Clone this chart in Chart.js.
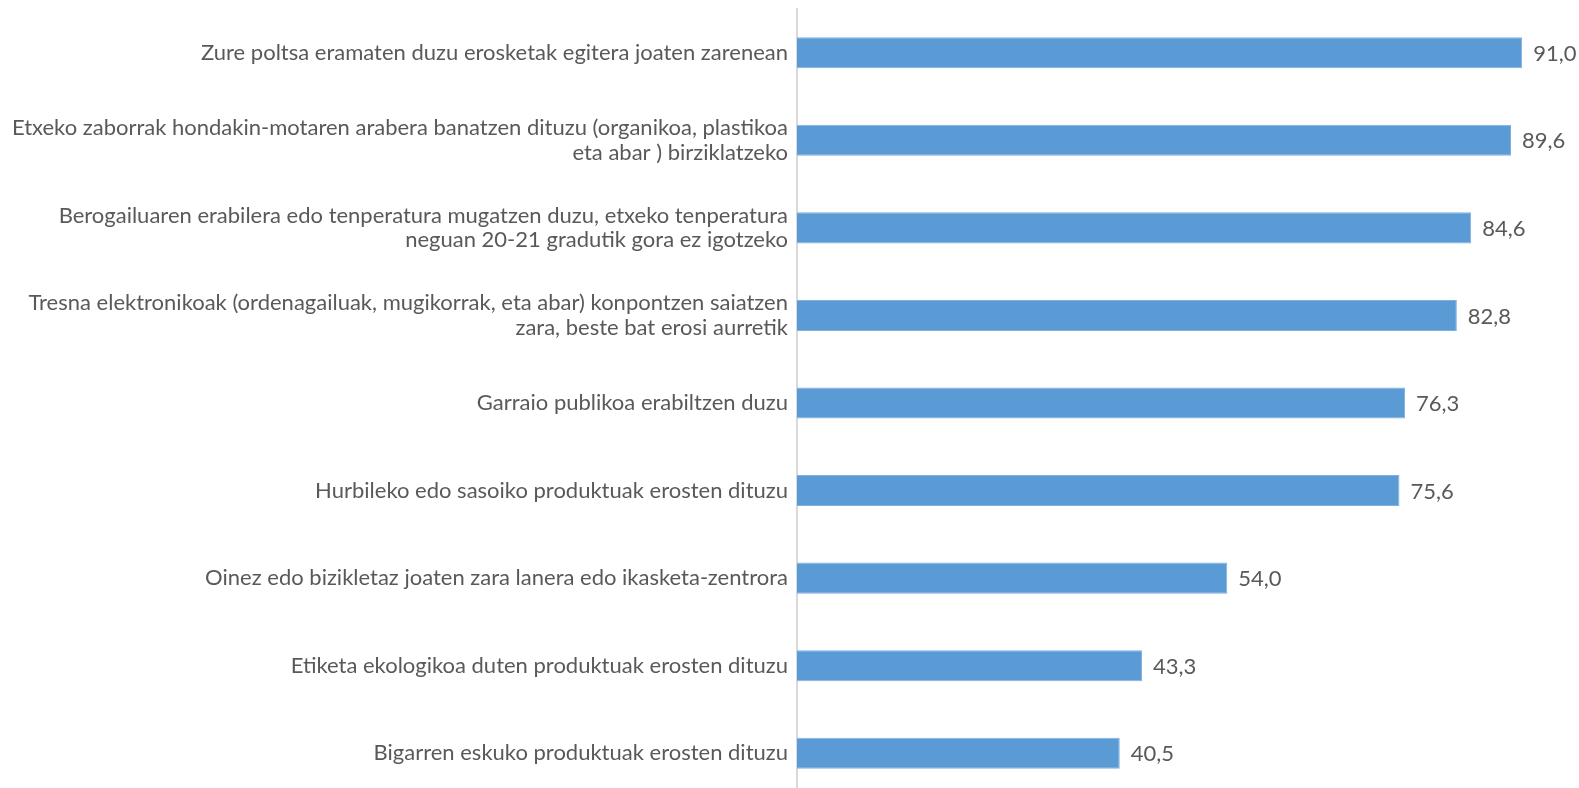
<!DOCTYPE html>
<html>
<head>
<meta charset="utf-8">
<script src="https://cdn.jsdelivr.net/npm/chart.js@4"></script>
<style>
html,body{margin:0;padding:0;background:#fff;overflow:hidden;}
#wrap{width:1579px;height:797px;position:relative;}
</style>
</head>
<body>
<div id="wrap"><canvas id="c"></canvas></div>
<script>
const categories = [
  "Zure poltsa eramaten duzu erosketak egitera joaten zarenean",
  ["Etxeko zaborrak hondakin-motaren arabera banatzen dituzu (organikoa, plastikoa", "eta abar ) birziklatzeko"],
  ["Berogailuaren erabilera edo tenperatura mugatzen duzu, etxeko tenperatura", "neguan 20-21 gradutik gora ez igotzeko"],
  ["Tresna elektronikoak (ordenagailuak, mugikorrak, eta abar) konpontzen saiatzen", "zara, beste bat erosi aurretik"],
  "Garraio publikoa erabiltzen duzu",
  "Hurbileko edo sasoiko produktuak erosten dituzu",
  "Oinez edo bizikletaz joaten zara lanera edo ikasketa-zentrora",
  "Etiketa ekologikoa duten produktuak erosten dituzu",
  "Bigarren eskuko produktuak erosten dituzu"
];
const values = [91.0, 89.6, 84.6, 82.8, 76.3, 75.6, 54.0, 43.3, 40.5];

const FONT = "Lato, 'Open Sans', sans-serif";
const TEXT = '#595959';

const valueLabels = {
  id: 'valueLabels',
  afterDatasetsDraw(chart) {
    const ctx = chart.ctx;
    const meta = chart.getDatasetMeta(0);
    ctx.save();
    ctx.font = '22px ' + FONT;
    ctx.fillStyle = TEXT;
    ctx.textAlign = 'left';
    ctx.textBaseline = 'middle';
    meta.data.forEach((bar, i) => {
      const txt = values[i].toFixed(1).replace('.', ',');
      ctx.fillText(txt, bar.x + 11, bar.y + 1);
    });
    ctx.restore();
  }
};

new Chart(document.getElementById('c'), {
  type: 'bar',
  data: {
    labels: categories,
    datasets: [{
      data: values,
      backgroundColor: '#5B9BD5',
      borderColor: '#7FB0DE',
      borderWidth: 1,
      categoryPercentage: 1,
      barPercentage: 0.355
    }]
  },
  options: {
    indexAxis: 'y',
    responsive: true,
    maintainAspectRatio: false,
    animation: false,
    layout: { padding: { top: 9, right: 9, left: 0, bottom: 0 } },
    plugins: { legend: { display: false }, tooltip: { enabled: false } },
    scales: {
      x: {
        min: 0, max: 97,
        display: false
      },
      y: {
        grid: { display: false, drawTicks: false },
        border: { display: true, color: '#D9D9D9', width: 2 },
        ticks: {
          color: TEXT,
          padding: 9,
          font: { family: FONT, size: 22, lineHeight: 1.11 }
        },
        afterFit(scale) { scale.width = 797; scale.paddingTop = 0; scale.paddingBottom = 0; }
      }
    }
  },
  plugins: [valueLabels]
});
</script>
</body>
</html>
